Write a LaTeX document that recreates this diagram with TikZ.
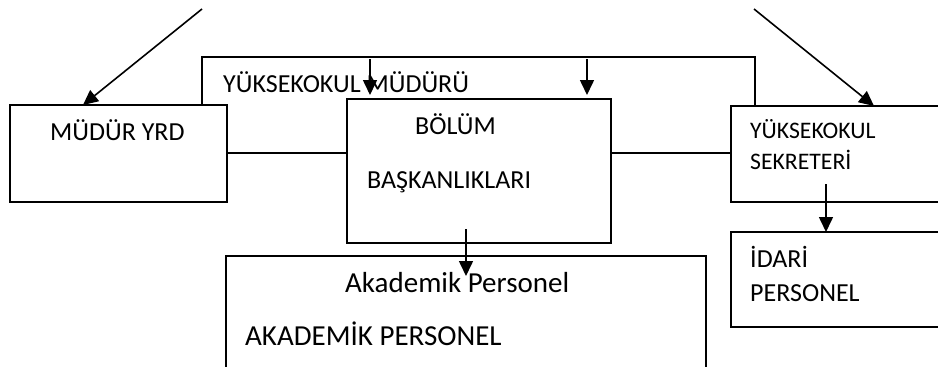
\documentclass[tikz,border=0pt]{standalone}
\usepackage{fontspec}
\setmainfont{Carlito}
\usetikzlibrary{arrows.meta}
\begin{document}
\begin{tikzpicture}[x=1pt,y=-1pt,
  box/.style={draw,line width=2pt,fill=white,anchor=north west,inner sep=0pt,outer sep=0pt},
  txt/.style={anchor=base west,inner sep=0pt,font=\fontsize{26}{28}\selectfont},
  small/.style={anchor=base west,inner sep=0pt,font=\fontsize{23.7}{26}\selectfont},
  big/.style={anchor=base west,inner sep=0pt,font=\fontsize{29}{31}\selectfont},
  arr/.style={line width=1.6pt,-{Triangle[width=14pt,length=15pt]}}]
\useasboundingbox (0,0) rectangle (938,367);
\clip (0,0) rectangle (938,367);
% frame
\node[box,fill=none,minimum width=553pt,minimum height=96pt] (frame) at (202,57) {};
\node[txt] (t1) at (223,92) {YÜKSEKOKUL MÜDÜRÜ};
% boxes
\node[box,minimum width=217pt,minimum height=97pt] (myrd) at (10,105) {};
\node[box,minimum width=264pt,minimum height=144pt] (bolum) at (347,99) {};
\node[box,minimum width=230pt,minimum height=96pt] (sekr) at (731,106) {};
\node[box,minimum width=230pt,minimum height=95pt] (idari) at (731,232) {};
\node[box,minimum width=480pt,minimum height=130pt] (akad) at (226,256) {};
% texts
\node[txt] (t2) at (50,140) {MÜDÜR YRD};
\node[txt] (t3) at (415,134) {BÖLÜM};
\node[txt] (t4) at (367,188) {BAŞKANLIKLARI};
\node[small] (t5) at (750,138) {YÜKSEKOKUL};
\node[small] (t6) at (750,169) {SEKRETERİ};
\node[txt] (t7) at (750,267) {İDARİ};
\node[txt] (t8) at (750,301) {PERSONEL};
\node[big] (t9) at (345,292) {Akademik Personel};
\node[big] (t10) at (245,345) {AKADEMİK PERSONEL};
% connector ends
\coordinate (sL) at (202,9);
\coordinate (sR) at (754,9);
\coordinate (s1) at (370,59);
\coordinate (s2) at (587,59);
\coordinate (s3) at (466,229);
\coordinate (e3) at (466,276);
\coordinate (s4) at (826,184);
% arrows
\draw[arr] (sL) -- ([xshift=73pt]myrd.north west);
\draw[arr] (sR) -- ([xshift=143pt]sekr.north west);
\draw[arr] (s1) -- ([yshift=4pt]s1 |- bolum.north);
\draw[arr] (s2) -- ([yshift=4pt]s2 |- bolum.north);
\draw[arr] (s3) -- (e3);
\draw[arr] (s4) -- (s4 |- idari.north);
\end{tikzpicture}
\end{document}
